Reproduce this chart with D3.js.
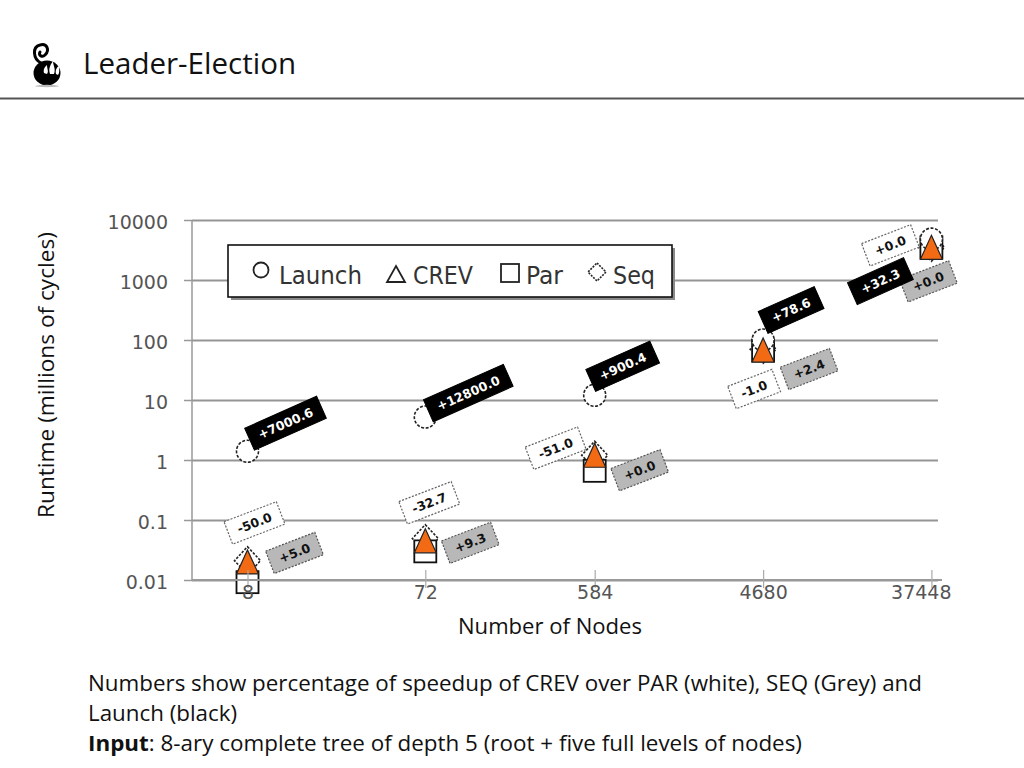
<!DOCTYPE html>
<html>
<head>
<meta charset="utf-8">
<script src="https://cdn.jsdelivr.net/npm/d3@7/dist/d3.min.js"></script>
<style>
html,body{margin:0;padding:0;background:#fff;}
svg{display:block;}
</style>
</head>
<body>
<svg id="chart" width="1024" height="768"></svg>
<script>
// ---------- data ----------
const nodes = [8, 72, 584, 4680, 37448];
const xLabels = ["8", "72", "584", "4680", "37448"];
const yTicks = [0.01, 0.1, 1, 10, 100, 1000, 10000];
const yLabels = ["0.01", "0.1", "1", "10", "100", "1000", "10000"];
const launch = [1.4, 5.2, 12, 100, 4800];
const crev = [0.02, 0.045, 1.2, 68, 3500];
const par = [0.0092, 0.03, 0.66, 67, 3500];
const seq = [0.021, 0.049, 1.2, 70, 3500];
const launchPct = ["+7000.6", "+12800.0", "+900.4", "+78.6", "+32.3"];
const parPct = ["-50.0", "-32.7", "-51.0", "-1.0", "+0.0"];
const seqPct = ["+5.0", "+9.3", "+0.0", "+2.4", "+0.0"];
const legendNames = ["Launch", "CREV", "Par", "Seq"];

// ---------- layout (pixel offsets of the speedup tags) ----------
const launchTagOff = [[38,-28],[43,-24],[28,-29],[28,-30],[-51,42]];
const parTagOff = [[7,-39],[4,-38],[-39,-7],[-9,39],[-41,-2]];
const seqTagOff = [[47,-9],[45,2],[45,15],[46,19],[-3,34]];

const svg = d3.select("#chart");
const SANS = "'Open Sans','Noto Sans',sans-serif";

// ---------- header ----------
const logo = svg.append("g");
logo.append("ellipse").attr("cx", 47).attr("cy", 73).attr("rx", 13.5).attr("ry", 12.5).attr("fill", "#000");
logo.append("path").attr("d", "M41,63 C33,59 32,47 40,45 C47,43 50,50 45,55 C42,58 38,55 40,52")
  .attr("fill", "none").attr("stroke", "#000").attr("stroke-width", 3).attr("stroke-linecap", "round");
logo.append("path").attr("d", "M50,74 C48,68 51,64 53,61 C53,66 56,68 54,74 Z").attr("fill", "#fff");
logo.append("path").attr("d", "M56,74 C55,70 57,67 59,66 C59,70 60,72 58,75 Z").attr("fill", "#fff");
logo.append("path").attr("d", "M44,73 C43,69 45,67 47,65 C47,69 49,71 47,74 Z").attr("fill", "#fff");
logo.append("ellipse").attr("cx", 47).attr("cy", 86).attr("rx", 12).attr("ry", 1.2).attr("fill", "#bbb");

svg.append("text").attr("x", 83).attr("y", 74).attr("font-family", SANS).attr("font-size", 29)
  .attr("fill", "#111").attr("textLength", 213).attr("lengthAdjust", "spacingAndGlyphs").text("Leader-Election");
svg.append("line").attr("x1", 0).attr("x2", 1024).attr("y1", 98.5).attr("y2", 98.5)
  .attr("stroke", "#555").attr("stroke-width", 2);

// ---------- scales ----------
const x = d3.scaleLog().domain([8, 37448]).range([247.5, 931.4]);
const y = d3.scaleLog().domain([0.01, 10000]).range([580, 220]);
const plotL = 192, plotR = 938;

// grid
const grid = svg.append("g").attr("transform", `translate(${plotL},0)`)
  .call(d3.axisLeft(y).tickValues(yTicks).tickSize(-(plotR - plotL)).tickFormat(""));
grid.select(".domain").remove();
grid.selectAll(".tick line").attr("stroke", "#959595").attr("stroke-width", 2);

// y axis
const yAx = svg.append("g").attr("transform", `translate(${plotL},0)`)
  .call(d3.axisLeft(y).tickValues(yTicks).tickSize(8).tickPadding(16)
    .tickFormat((d, i) => yLabels[i]));
yAx.select(".domain").attr("stroke", "#999").attr("stroke-width", 1.5).attr("d", `M0,${y(10000)}V${y(0.01)}`);
yAx.selectAll(".tick line").attr("stroke", "#999").attr("stroke-width", 1.5);
yAx.selectAll(".tick text").attr("font-family", "'DejaVu Sans',sans-serif").attr("font-size", 19)
  .attr("fill", "#555").attr("dy", "0.45em");

// ---------- legend ----------
const lg = svg.append("g");
lg.append("rect").attr("x", 231).attr("y", 248).attr("width", 444).attr("height", 52).attr("fill", "#8a8a8a");
lg.append("rect").attr("x", 228).attr("y", 245).attr("width", 444).attr("height", 52)
  .attr("fill", "#fff").attr("stroke", "#111").attr("stroke-width", 1.6);
lg.append("circle").attr("cx", 261).attr("cy", 270).attr("r", 7.5).attr("fill", "#fff").attr("stroke", "#222").attr("stroke-width", 1.8);
lg.append("path").attr("d", "M396,266 L405,282 L387,282 Z").attr("fill", "#fff").attr("stroke", "#222").attr("stroke-width", 1.8);
lg.append("rect").attr("x", 501).attr("y", 264).attr("width", 18).attr("height", 18).attr("fill", "#fff").attr("stroke", "#222").attr("stroke-width", 1.8);
lg.append("path").attr("d", "M597,263 L606,272 L597,281 L588,272 Z").attr("fill", "#fff").attr("stroke", "#222").attr("stroke-width", 1.6).attr("stroke-dasharray", "2,1.2");
const legX = [279, 413, 526, 613], legW = [83, 60, 37, 42];
legendNames.forEach((n, i) => {
  lg.append("text").attr("x", legX[i]).attr("y", 284)
    .attr("font-family", "'DejaVu Sans Condensed','Liberation Sans Narrow','DejaVu Sans',sans-serif")
    .attr("font-size", 24).attr("fill", "#333")
    .attr("textLength", legW[i]).attr("lengthAdjust", "spacingAndGlyphs").text(n);
});

// ---------- markers ----------
const marks = svg.append("g");
const tri = "M0,-12 L11,12 L-11,12 Z";
nodes.forEach((n, i) => {
  const cx = x(n);
  marks.append("path").attr("transform", `translate(${cx},${y(seq[i])})`)
    .attr("d", "M0,-14 L13,0 L0,14 L-13,0 Z").attr("fill", "#fff")
    .attr("stroke", "#222").attr("stroke-width", 1.6).attr("stroke-dasharray", "2.5,1.5");
  marks.append("rect").attr("x", cx - 11).attr("y", y(par[i]) - 11).attr("width", 22).attr("height", 22)
    .attr("fill", "#fff").attr("stroke", "#111").attr("stroke-width", 1.8);
  marks.append("circle").attr("cx", cx).attr("cy", y(launch[i])).attr("r", 11)
    .attr("fill", "#fff").attr("stroke", "#222").attr("stroke-width", 1.6).attr("stroke-dasharray", "3,1.6");
  marks.append("path").attr("transform", `translate(${cx},${y(crev[i])})`)
    .attr("d", tri).attr("fill", "#f26a14").attr("stroke", "#222").attr("stroke-width", 1.2);
});

// ---------- x axis ----------
const xAx = svg.append("g").attr("transform", `translate(0,${y(0.01)})`)
  .call(d3.axisBottom(x).tickValues(nodes).tickSize(8).tickFormat((d, i) => xLabels[i]));
xAx.select(".domain").attr("stroke", "#999").attr("stroke-width", 2).attr("d", `M${plotL},0H${plotR + 4}`);
xAx.selectAll(".tick line").attr("y1", -10).attr("y2", 8).attr("stroke", "#aaa").attr("stroke-width", 1.2);
xAx.selectAll(".tick text").attr("font-family", "'DejaVu Sans',sans-serif").attr("font-size", 19)
  .attr("fill", "#555").attr("y", 6).attr("dy", "0.71em");
xAx.selectAll(".tick text").each(function(d) {
  const w = this.getComputedTextLength();
  const right = x(d) + w / 2;
  if (right > 951) d3.select(this).attr("dx", 951 - right);
});

// ---------- speedup tags ----------
const tags = svg.append("g");
function tag(cx, cy, label, kind) {
  const g = tags.append("g").attr("transform", `translate(${cx},${cy}) rotate(${kind === "black" ? -24 : -21})`);
  const r = g.append("rect");
  const t = g.append("text").attr("text-anchor", "middle").attr("dominant-baseline", "central")
    .attr("font-family", "'DejaVu Sans',sans-serif").attr("font-weight", "bold").attr("font-size", 12.5).text(label);
  const w = t.node().getComputedTextLength() + 20, h = 24;
  r.attr("x", -w / 2).attr("y", -h / 2).attr("width", w).attr("height", h);
  if (kind === "black") {
    r.attr("fill", "#000").attr("stroke", "#000");
    t.attr("fill", "#fff");
  } else if (kind === "white") {
    r.attr("fill", "#fff").attr("stroke", "#666").attr("stroke-width", 1.2).attr("stroke-dasharray", "2,1.5");
    t.attr("fill", "#111");
  } else {
    r.attr("fill", "#b8b8b8").attr("stroke", "#555").attr("stroke-width", 1.2).attr("stroke-dasharray", "2,1.5");
    t.attr("fill", "#111");
  }
}
nodes.forEach((n, i) => {
  const cx = x(n);
  tag(cx + seqTagOff[i][0], y(crev[i]) + seqTagOff[i][1], seqPct[i], "grey");
  tag(cx + parTagOff[i][0], y(crev[i]) + parTagOff[i][1], parPct[i], "white");
  tag(cx + launchTagOff[i][0], y(launch[i]) + launchTagOff[i][1], launchPct[i], "black");
});

// ---------- axis titles ----------
svg.append("text").attr("transform", "translate(54,375) rotate(-90)").attr("text-anchor", "middle")
  .attr("font-family", SANS).attr("font-size", 21).attr("fill", "#111")
  .attr("textLength", 286).attr("lengthAdjust", "spacingAndGlyphs").text("Runtime (millions of cycles)");
svg.append("text").attr("x", 550).attr("y", 634).attr("text-anchor", "middle")
  .attr("font-family", SANS).attr("font-size", 21).attr("fill", "#111")
  .attr("textLength", 184).attr("lengthAdjust", "spacingAndGlyphs").text("Number of Nodes");

// ---------- notes ----------
const note = svg.append("g").attr("font-family", SANS).attr("font-size", 22).attr("fill", "#111");
note.append("text").attr("x", 88).attr("y", 691).attr("textLength", 834).attr("lengthAdjust", "spacingAndGlyphs")
  .text("Numbers show percentage of speedup of CREV over PAR (white), SEQ (Grey) and");
note.append("text").attr("x", 88).attr("y", 721).attr("textLength", 149).attr("lengthAdjust", "spacingAndGlyphs")
  .text("Launch (black)");
const l3 = note.append("text").attr("x", 88).attr("y", 751).attr("textLength", 714).attr("lengthAdjust", "spacingAndGlyphs");
l3.append("tspan").attr("font-weight", "bold").text("Input");
l3.append("tspan").text(": 8-ary complete tree of depth 5 (root + five full levels of nodes)");
</script>
</body>
</html>
